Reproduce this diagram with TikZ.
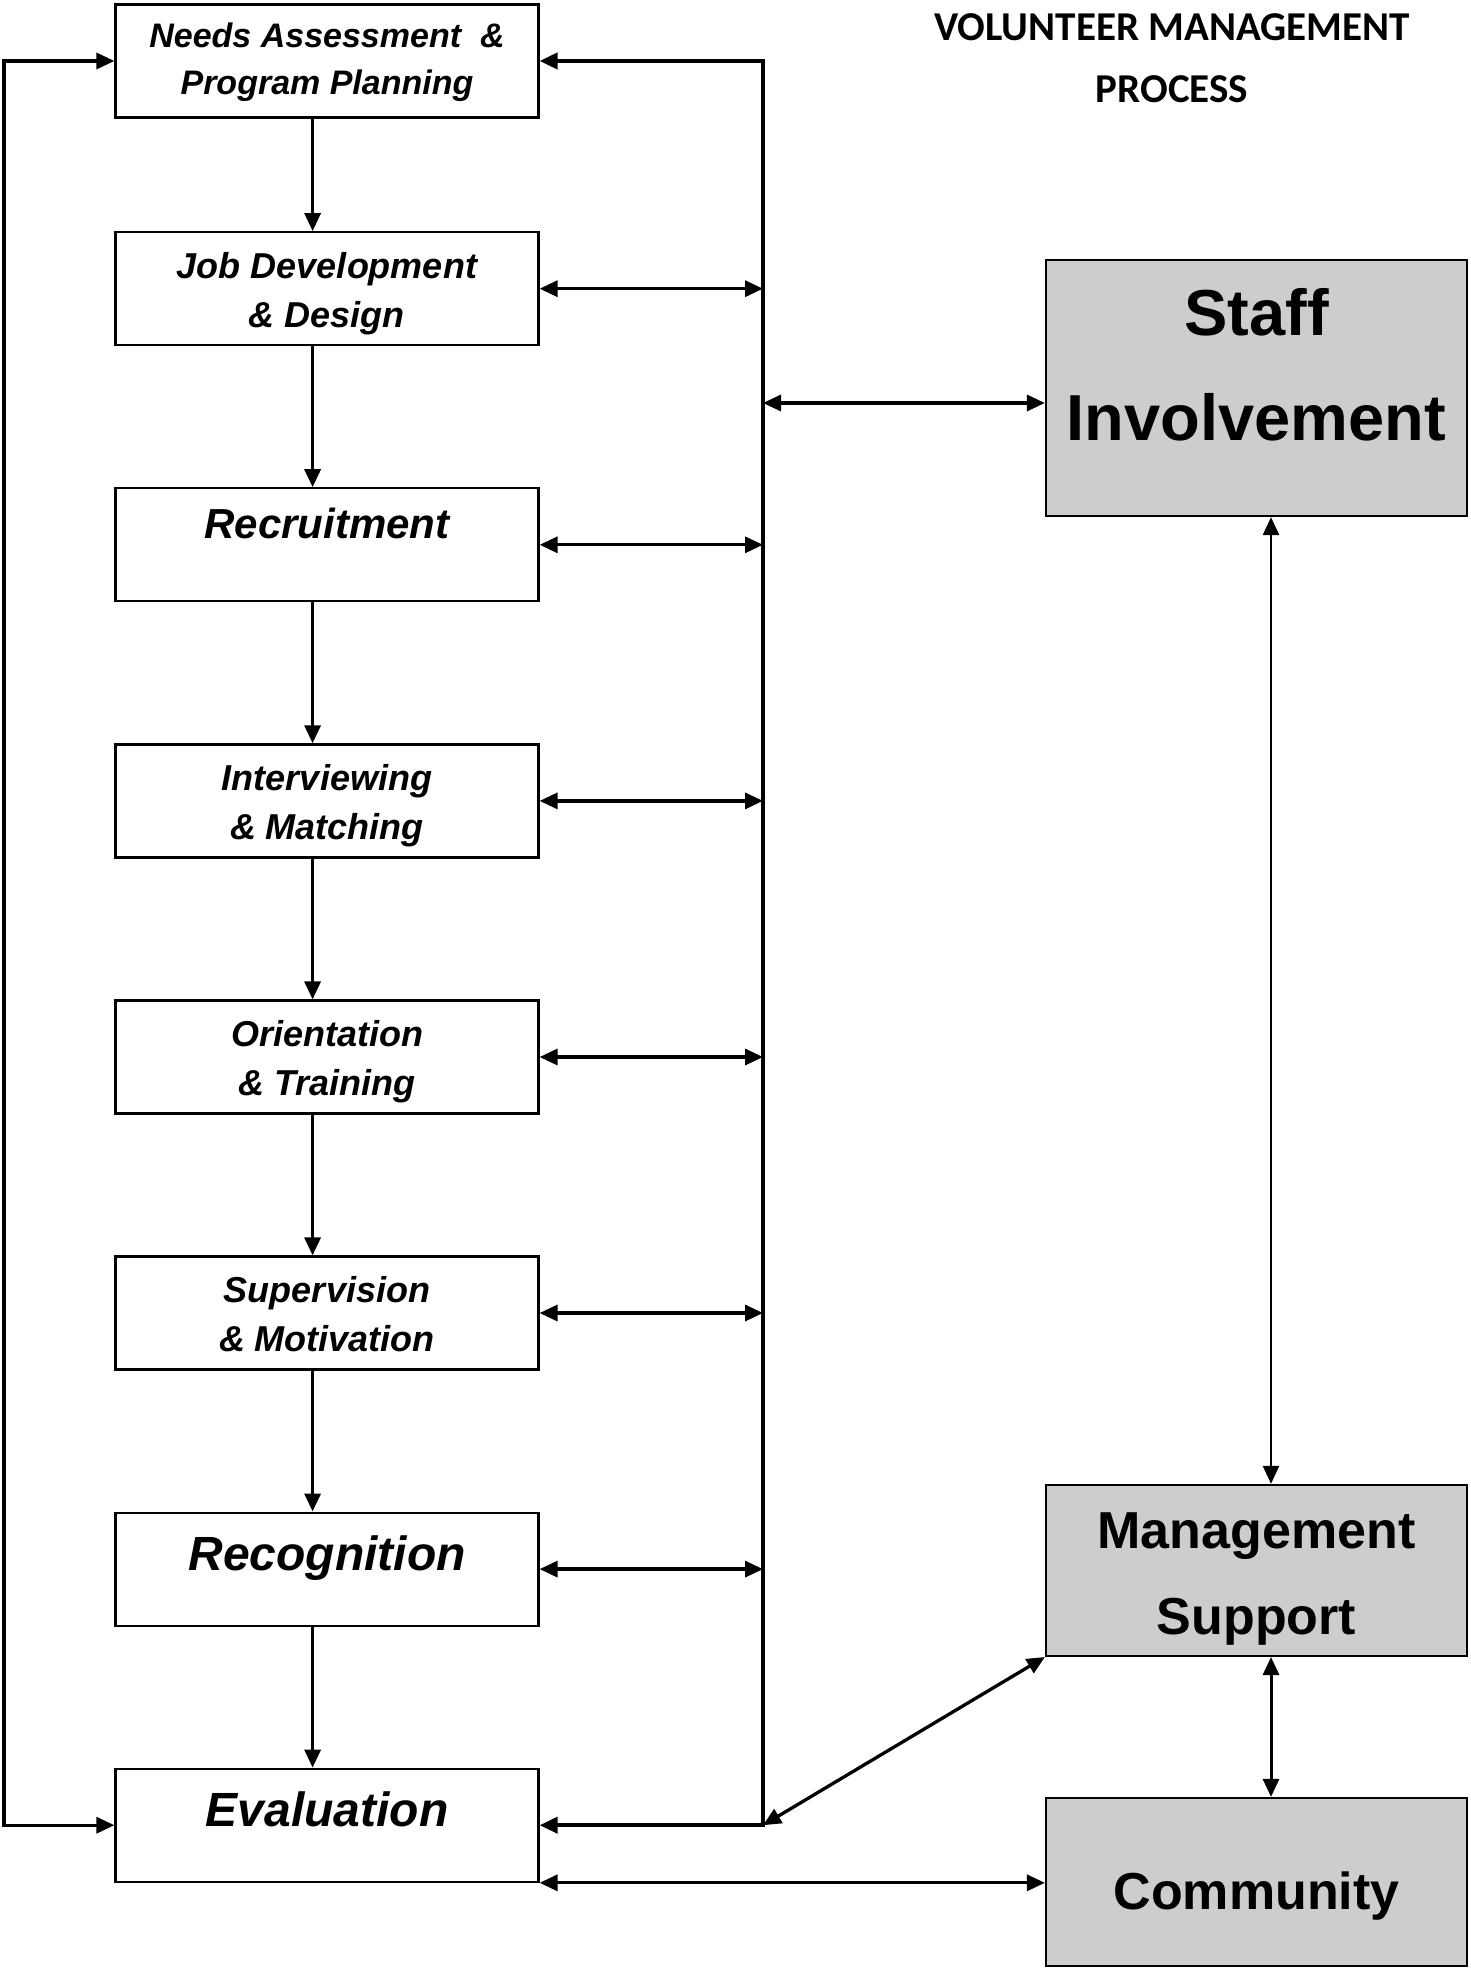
\documentclass[tikz,border=0pt]{standalone}
\usepackage{fontspec}
\setmainfont{Liberation Sans}
\newfontfamily\titlefont{Carlito}
\usetikzlibrary{arrows.meta}
\definecolor{fillg}{HTML}{CDCDCD}
\tikzset{myt/.tip={Triangle[length=18pt,width=16pt]}}
\begin{document}
\begin{tikzpicture}[x=1pt,y=-1pt,
  lbox/.style={draw, line width=2.2pt, minimum width=423pt, minimum height=113pt, inner sep=0pt},
  gbox/.style={draw, line width=2.2pt, fill=fillg, minimum width=421pt, inner sep=0pt},
  conn/.style={line width=3.3pt, -myt},
  dbl/.style={line width=3.3pt, myt-myt},
  bus/.style={line width=4pt},
  ltxt/.style={font=\fontsize{#1}{#1}\selectfont\bfseries\itshape, anchor=base, inner sep=0pt},
  rtxt/.style={font=\fontsize{#1}{#1}\selectfont\bfseries, anchor=base, inner sep=0pt},
  ttxt/.style={font=\titlefont\fontsize{41}{41}\selectfont\bfseries, anchor=base, inner sep=0pt}
]
\useasboundingbox (0,0) rectangle (1470,1969);

% left boxes
\node[lbox] (b1) at (327,61) {};
\node[lbox] (b2) at (327,288.7) {};
\node[lbox] (b3) at (327,544.8) {};
\node[lbox] (b4) at (327,800.9) {};
\node[lbox] (b5) at (327,1057) {};
\node[lbox] (b6) at (327,1313) {};
\node[lbox] (b7) at (327,1569.1) {};
\node[lbox] (b8) at (327,1825.2) {};

% right boxes
\node[gbox, minimum height=256pt] (staff) at (1256.5,388) {};
\node[gbox, minimum height=171pt] (mgmt) at (1256.5,1570.4) {};
\node[gbox, minimum height=168pt] (comm) at (1256.5,1882) {};

% texts
\node[ttxt] (tt1) at (1172,41) {VOLUNTEER MANAGEMENT};
\node[ttxt] (tt2) at (1172,103) {PROCESS};

\node[ltxt=34] (t1a) at (327,48) {Needs Assessment\ \ \&};
\node[ltxt=34] (t1b) at (327,95) {Program Planning};
\node[ltxt=36] (t2a) at (327,278) {Job Development};
\node[ltxt=36] (t2b) at (327,327) {\& Design};
\node[ltxt=42] (t3a) at (327,538) {Recruitment};
\node[ltxt=36] (t4a) at (327,790) {Interviewing};
\node[ltxt=36] (t4b) at (327,839) {\& Matching};
\node[ltxt=36] (t5a) at (327,1046) {Orientation};
\node[ltxt=36] (t5b) at (327,1095) {\& Training};
\node[ltxt=36] (t6a) at (327,1302) {Supervision};
\node[ltxt=36] (t6b) at (327,1351) {\& Motivation};
\node[ltxt=48] (t7a) at (327,1570) {Recognition};
\node[ltxt=48] (t8a) at (327,1826) {Evaluation};

\node[rtxt=65] (s1) at (1256.5,335) {Staff};
\node[rtxt=65] (s2) at (1256.5,440) {Involvement};
\node[rtxt=52] (m1) at (1256.5,1548) {Management};
\node[rtxt=52] (m2) at (1256.5,1634) {Support};
\node[rtxt=52] (c1) at (1256.5,1909) {Community};

% coordinates
\coordinate (lT) at (4,61);
\coordinate (lB) at (4,1825.2);
\coordinate (busT) at (763,61);
\coordinate (busB) at (763,1825.2);
\coordinate (sa) at (763,403);
\coordinate (dx) at (312.6,0);
\coordinate (vx) at (1271,0);

% down arrows
\foreach \a/\b in {b1/b2,b2/b3,b3/b4,b4/b5,b5/b6,b6/b7,b7/b8}
  \draw[conn] (dx |- \a.south) -- (dx |- \b.north);

% left feedback loop
\draw[line width=3.3pt, myt-myt] (b1.west) -- (lT) -- (lB) -- (b8.west);
% right bus
\draw[bus, myt-myt] (b1.east) -- (busT) -- (busB) -- (b8.east);

% side double arrows
\foreach \a in {b2,b3,b4,b5,b6,b7}
  \draw[dbl] (\a.east) -- (\a.east -| busT);

% staff
\draw[dbl] (sa) -- (sa -| staff.west);
\draw[dbl, line width=2.6pt] (vx |- staff.south) -- (vx |- mgmt.north);
\draw[dbl, line width=3pt] (vx |- mgmt.south) -- (vx |- comm.north);
\draw[dbl] (busB) -- (mgmt.south west);
\draw[dbl] (b8.south east) -- (b8.south east -| comm.west);
\end{tikzpicture}
\end{document}
